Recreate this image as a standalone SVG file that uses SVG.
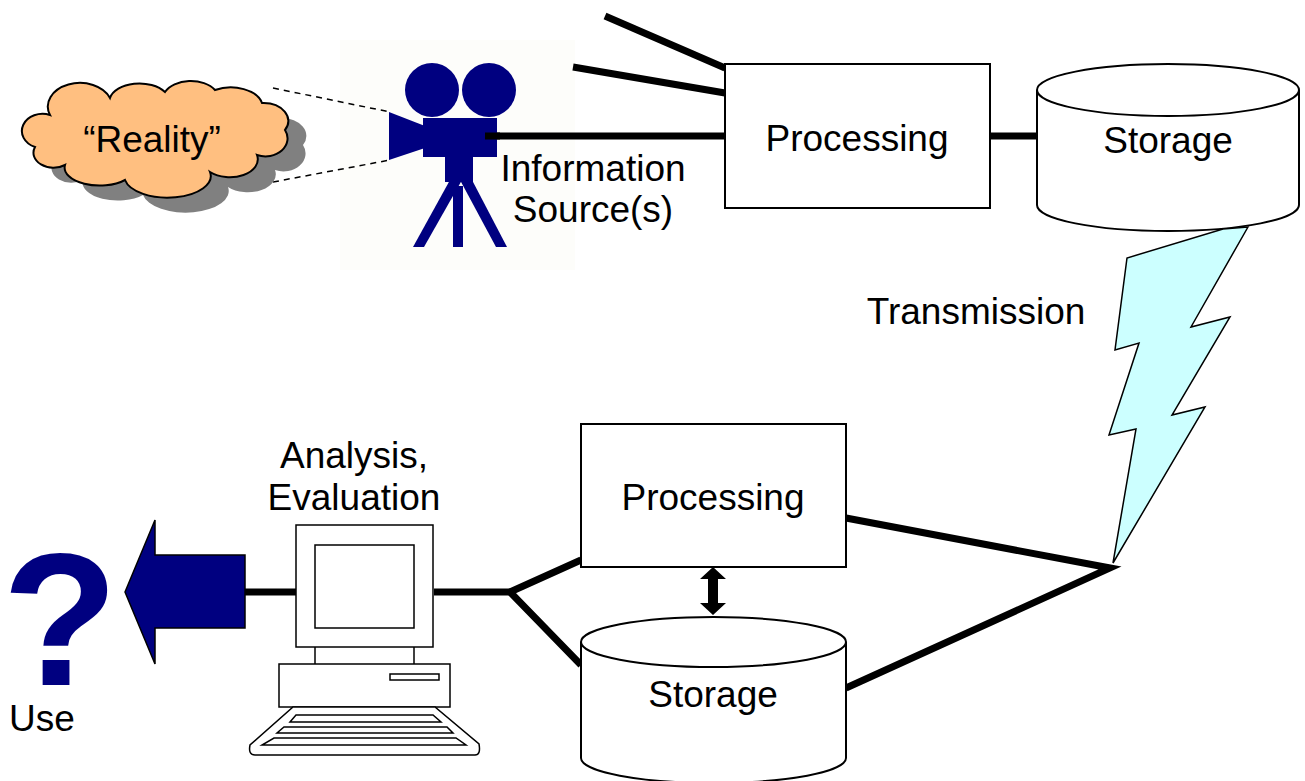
<svg xmlns="http://www.w3.org/2000/svg" width="1305" height="781" viewBox="0 0 1305 781">
  <style>
    .lbl { font-family: "Liberation Sans", Arial, sans-serif; font-size: 37px; fill: #000; }
    .mid { text-anchor: middle; }
    .wire { stroke: #000; stroke-width: 7; fill: none; }
    .box { fill: #fff; stroke: #000; stroke-width: 2; }
    .thin { fill: #fff; stroke: #000; stroke-width: 1.5; }
    .navy { fill: #000080; }
  </style>
  <defs>
    <path id="cloudShape" d="M 50,115 A 30,22 0 0 1 110,98 A 30,18 0 0 1 165,92 A 28,18 0 0 1 215,90 A 32,20 0 0 1 262,103 A 25,18 0 0 1 285,130 A 22,18 0 0 1 257,155 A 28,18 0 0 1 210,172 A 40,20 0 0 1 125,180 A 35,18 0 0 1 65,165 A 20,15 0 0 1 35,147 A 18,15 0 0 1 50,115 Z"/>
  </defs>
  <rect width="1305" height="781" fill="#fff"/>
  <!-- faint backdrop behind the camera clip-art -->
  <rect x="340" y="40" width="235" height="230" fill="#FDFDFA"/>

  <!-- connectors -->
  <g id="connectors">
    <line class="wire" x1="605" y1="16" x2="725" y2="68"/>
    <line class="wire" x1="573" y1="67" x2="725" y2="93"/>
    <line class="wire" x1="485" y1="136" x2="725" y2="136"/>
    <line class="wire" x1="990" y1="136" x2="1038" y2="136"/>
    <polyline class="wire" points="846,518 1110,568 846,688"/>
    <polyline class="wire" points="581,560 510,592 581,665"/>
    <line class="wire" x1="434" y1="592" x2="510" y2="592"/>
    <line class="wire" x1="245" y1="592" x2="296" y2="592"/>
    <polygon fill="#000" points="713,567 700,579 708,579 708,603 700,603 713,615 726,603 718,603 718,579 726,579"/>
    <line x1="273" y1="88" x2="390" y2="112" stroke="#000" stroke-width="1.5" stroke-dasharray="6,5"/>
    <line x1="273" y1="182" x2="390" y2="160" stroke="#000" stroke-width="1.5" stroke-dasharray="6,5"/>
  </g>

  <!-- cloud -->
  <g id="reality">
    <use href="#cloudShape" transform="translate(18,15)" fill="#808080"/>
    <use href="#cloudShape" fill="#FFBF80" stroke="#000" stroke-width="2"/>
    <text class="lbl mid" x="152" y="152">“Reality”</text>
  </g>

  <!-- camera -->
  <g id="camera">
    <circle class="navy" cx="432" cy="90" r="27"/>
    <circle class="navy" cx="489" cy="90" r="27"/>
    <rect class="navy" x="423" y="118" width="74" height="39"/>
    <polygon class="navy" points="389,112 425,126 425,148 389,160"/>
    <rect class="navy" x="445" y="155" width="28" height="27"/>
    <polygon class="navy" points="450,180 462,180 424,247 413,247"/>
    <rect class="navy" x="453" y="186" width="10" height="61"/>
    <polygon class="navy" points="460,180 472,180 507,247 496,247"/>
    <line class="wire" x1="485" y1="136" x2="500" y2="136"/>
  </g>
  <g id="source-label">
    <text class="lbl mid" x="593" y="181">Information</text>
    <text class="lbl mid" x="593" y="222">Source(s)</text>
  </g>

  <!-- upper processing -->
  <g id="processing-top">
    <rect class="box" x="725" y="64" width="265" height="144"/>
    <text class="lbl mid" x="857" y="151">Processing</text>
  </g>

  <!-- upper storage -->
  <g id="storage-top">
    <path class="box" d="M 1037,90 L 1037,205 A 131,26 0 0 0 1299,205 L 1299,90"/>
    <ellipse class="box" cx="1168" cy="90" rx="131" ry="26"/>
    <text class="lbl mid" x="1168" y="153">Storage</text>
  </g>

  <!-- transmission bolt -->
  <g id="transmission">
    <polygon fill="#CCFFFF" stroke="#000" stroke-width="1.5" stroke-linejoin="miter" points="1248,227 1191,327 1230,317 1172,415 1205,407 1113,563 1136,429 1109,435 1139,343 1115,350 1127,258 1223,229"/>
    <text class="lbl mid" x="976" y="324">Transmission</text>
  </g>

  <!-- lower processing -->
  <g id="processing-bottom">
    <rect class="box" x="581" y="424" width="265" height="143"/>
    <text class="lbl mid" x="713" y="510">Processing</text>
  </g>

  <!-- lower storage -->
  <g id="storage-bottom">
    <path class="box" d="M 581,642 L 581,758 A 132.5,25 0 0 0 846,758 L 846,642"/>
    <ellipse class="box" cx="713.5" cy="642" rx="132.5" ry="25"/>
    <text class="lbl mid" x="713" y="707">Storage</text>
  </g>

  <!-- workstation -->
  <g id="computer">
    <text class="lbl mid" x="354" y="468">Analysis,</text>
    <text class="lbl mid" x="354" y="510">Evaluation</text>
    <rect class="thin" x="296" y="525" width="137" height="122"/>
    <rect class="thin" x="315" y="545" width="99" height="83"/>
    <line x1="315" y1="647" x2="315" y2="665" stroke="#000" stroke-width="1.5"/>
    <line x1="414" y1="647" x2="414" y2="665" stroke="#000" stroke-width="1.5"/>
    <rect class="thin" x="279" y="664" width="171" height="43"/>
    <rect class="thin" x="390" y="674" width="49" height="6"/>
    <path class="thin" d="M 293,707 L 435,707 L 479,744 Q 481,755 475,755 L 255,755 Q 248,755 250,745 Z"/>
    <polygon class="thin" points="296,715 433,715 441,722 290,722"/>
    <polygon class="thin" points="284,727 447,727 453,733 277,733"/>
    <polygon class="thin" points="274,738 456,738 466,745 262,745"/>
  </g>

  <!-- output arrow -->
  <g id="output-arrow">
    <polygon fill="#000080" stroke="#000" stroke-width="1.5" points="125,592 155,520 155,555 245,555 245,628 155,628 155,664"/>
  </g>

  <!-- use -->
  <g id="use">
    <text x="60" y="685" text-anchor="middle" font-family="Liberation Sans, Arial, sans-serif" font-weight="bold" font-size="190" fill="#000080">?</text>
    <text class="lbl" x="9" y="731">Use</text>
  </g>
</svg>
